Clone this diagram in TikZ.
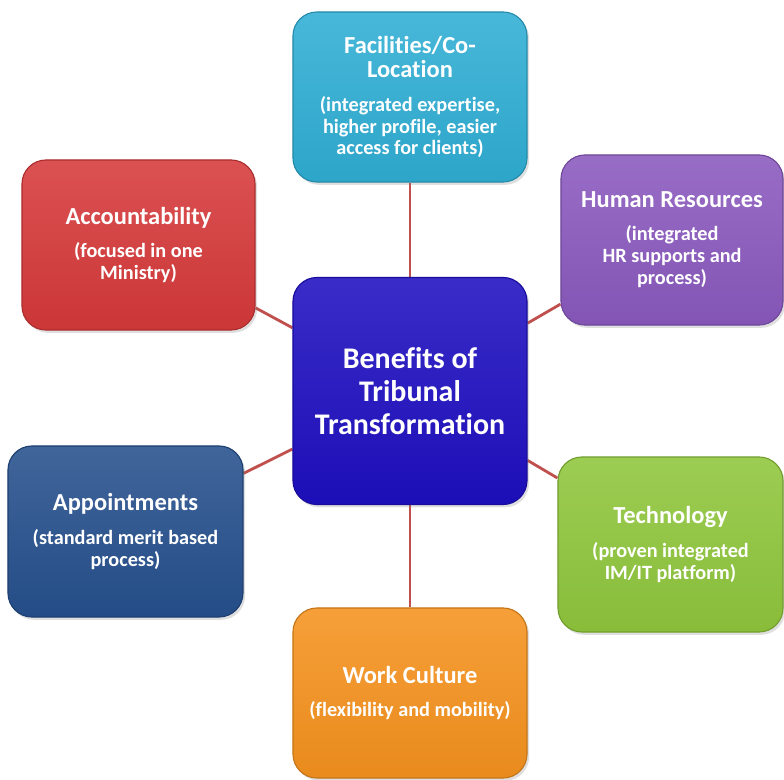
\documentclass[tikz,border=0pt]{standalone}
\usepackage{fontspec}
\setmainfont[Ligatures=NoCommon]{Carlito}
\usetikzlibrary{shadows,backgrounds}

\definecolor{facblue}{HTML}{2FAED4}
\definecolor{accred}{HTML}{D6393A}
\definecolor{hrpurple}{HTML}{8A59BE}
\definecolor{mainblue}{HTML}{1E0FC0}
\definecolor{appblue}{HTML}{26508D}
\definecolor{techgreen}{HTML}{8FC63C}
\definecolor{workorange}{HTML}{F5921E}
\definecolor{linkred}{HTML}{C0504D}

\newcommand{\headfont}{\fontsize{17.4}{17.7}\selectfont}

\tikzset{
    topic/.style={rounded corners=0.6cm, minimum width=5.85cm, minimum height=4.25cm,
        align=center, text=white, font=\bfseries\fontsize{14.4}{15.6}\selectfont,
        top color=#1!88!white, bottom color=#1!95!black, draw=#1!80!black, line width=0.8pt,
        drop shadow={opacity=0.25, shadow xshift=1.5pt, shadow yshift=-2pt}},
    link/.style={draw=linkred, line width=2pt}
}

\begin{document}
\begin{tikzpicture}[x=0.025cm, y=-0.025cm]
    \useasboundingbox (0,0) rectangle (784,780);

    % the centre box
    \node[topic=mainblue, minimum height=5.675cm, font=\bfseries\fontsize{21.3}{23.4}\selectfont]
        (benefits) at (410,391) {Benefits of\\Tribunal\\Transformation};

    % the boxes round it
    \node[topic=facblue] (facilities) at (410,97)
        {\headfont Facilities/Co-\\[2pt]\headfont Location\\[8pt](integrated expertise,\\higher profile, easier\\access for clients)};
    \node[topic=accred, minimum width=5.825cm] (account) at (138.5,245)
        {\headfont Accountability\\[8pt](focused in one\\Ministry)};
    \node[topic=hrpurple, minimum width=5.55cm] (hr) at (672,240)
        {\headfont Human Resources\\[8pt](integrated\\HR supports and\\process)};
    \node[topic=appblue, minimum width=5.875cm, minimum height=4.275cm] (appoint) at (125.5,531.5)
        {\headfont Appointments\\[8pt](standard merit based\\process)};
    \node[topic=techgreen, minimum width=5.625cm, minimum height=4.375cm] (tech) at (670.5,544.5)
        {\headfont Technology\\[8pt](proven integrated\\IM/IT platform)};
    \node[topic=workorange] (work) at (410,693)
        {\headfont Work Culture\\[8pt](flexibility and mobility)};

    % the links, behind the boxes
    \begin{scope}[on background layer]
        \draw[link] (benefits) -- (facilities);
        \draw[link] (benefits) -- (account);
        \draw[link] (benefits) -- (hr);
        \draw[link] (benefits) -- (appoint);
        \draw[link] (benefits) -- (tech);
        \draw[link] (benefits) -- (work);
    \end{scope}

\end{tikzpicture}
\end{document}
